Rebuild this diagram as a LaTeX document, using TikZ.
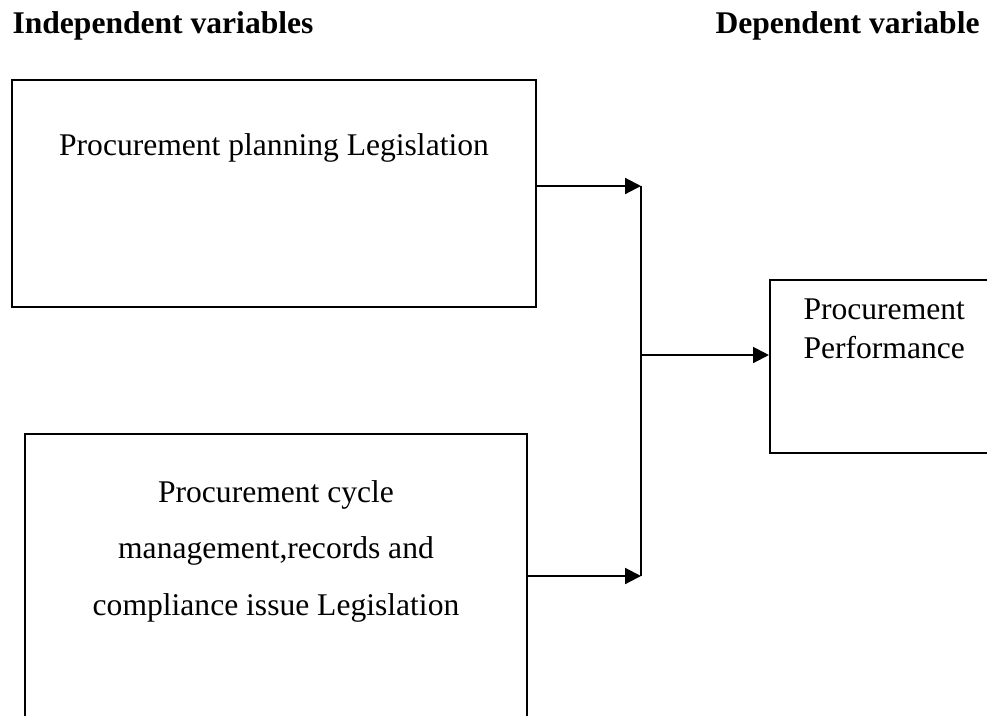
\documentclass[tikz,border=0pt,12pt]{standalone}
\usepackage{fontspec}
\setmainfont{Liberation Serif}
\usetikzlibrary{arrows.meta,fit}
\tikzset{box/.style={draw,line width=0.8pt,inner sep=0pt},
  lbl/.style={inner sep=0pt},
  link/.style={line width=0.8pt,-{Triangle[length=6pt,width=6pt]}}}
\begin{document}
\begin{tikzpicture}[x=0.38pt,y=-0.38pt]
    \useasboundingbox (0,0) rectangle (987,715);
    \clip (0,0) rectangle (987,715);
    \node[lbl,anchor=base west,font=\bfseries] (indep) at (12,33) {Independent variables};
    \node[lbl,anchor=base west,font=\bfseries] (dep) at (715,33) {Dependent variable};
    \node[box,fit={(12,80) (536,307)}] (plan) {};
    \node[lbl,anchor=base] (plantext) at (274,155) {Procurement planning Legislation};
    \node[box,fit={(25,434) (527,740)}] (records) {};
    \node[lbl,anchor=base,align=center,font=\fontsize{12pt}{21.3pt}\selectfont] (recordstext) at (276,615)
        {Procurement cycle\\ management,records and\\ compliance issue Legislation};
    \node[box,fit={(770,280) (1010,453)}] (perf) {};
    \node[lbl,anchor=base west,align=left] (perftext) at (803,358) {Procurement\\ Performance};
    \coordinate (top) at (641,186);
    \coordinate (bot) at (641,576);
    \coordinate (mid) at (641,355);
    \draw[link] (plan.east |- top) -- (top);
    \draw[link] (records.east |- bot) -- (bot);
    \draw[line width=0.8pt] (top) -- (bot);
    \draw[link] (mid) -- (perf.west |- mid);
\end{tikzpicture}
\end{document}
